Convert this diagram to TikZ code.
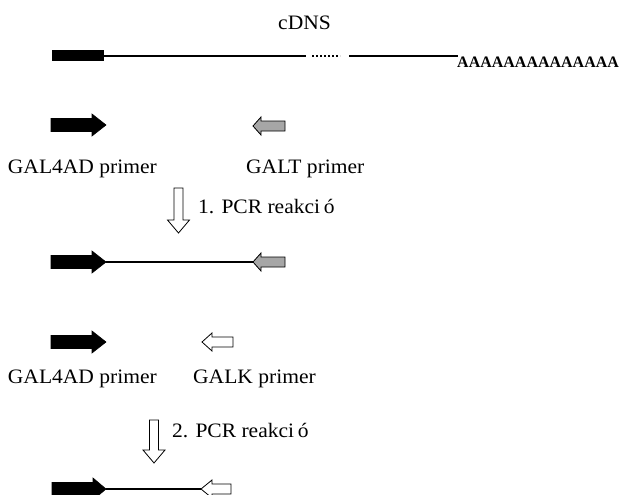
\documentclass[tikz,border=0pt]{standalone}
\usepackage{fontspec}
\setmainfont{Liberation Serif}
\newcommand{\wide}[1]{\scalebox{1.05}[1]{#1}}
\begin{document}
\begin{tikzpicture}[x=1pt,y=-1pt,
  lbl/.style={inner sep=0pt,font=\fontsize{20.5}{22}\selectfont},
  dna/.style={line width=2.2pt},
  blackprimer/.style={fill=black,draw=black,line width=0.6pt},
  greyprimer/.style={fill=gray!70,draw=black,line width=0.8pt},
  whiteprimer/.style={fill=white,draw=black,line width=0.8pt},
  stepdown/.style={fill=white,draw=black,line width=0.8pt}]
\useasboundingbox (0,0) rectangle (624,495);
\clip (0,0) rectangle (624,495);
% right-pointing primer: start x0, head start xh, tip x1, centre c
\newcommand{\rprimer}[5]{%
  \path[#5] (#1,#4-6.5) -- (#2,#4-6.5) -- (#2,#4-11) -- (#3,#4) -- (#2,#4+11) -- (#2,#4+6.5) -- (#1,#4+6.5) -- cycle;}
% left-pointing primer: tip x1, head end xh, body end x0, centre c
\newcommand{\lprimer}[5]{%
  \path[#5] (#1,#4) -- (#2,#4-9) -- (#2,#4-5) -- (#3,#4-5) -- (#3,#4+5) -- (#2,#4+5) -- (#2,#4+9) -- cycle;}
% downward hollow arrow
\newcommand{\downarrowshape}[4]{%
  \path[stepdown] (#1-4.5,#2) -- (#1+4.5,#2) -- (#1+4.5,#3) -- (#1+11,#3) -- (#1,#4) -- (#1-11,#3) -- (#1-4.5,#3) -- cycle;}

% ---- cDNS line ----
\node[lbl,anchor=base west] (cdns) at (278,30) {\wide{cDNS}};
\fill (52,50) rectangle (104,61);
\coordinate (l1a) at (104,56);
\coordinate (l1b) at (306,56);
\coordinate (d1a) at (312,56);
\coordinate (d1b) at (340,56);
\coordinate (l2a) at (349,56);
\coordinate (l2b) at (458,56);
\draw[dna] (l1a) -- (l1b);
\draw[line width=1.6pt,dash pattern=on 2pt off 2pt] (d1a) -- (d1b);
\draw[dna] (l2a) -- (l2b);
\node[inner sep=0pt,anchor=base west,font=\fontsize{16}{18}\selectfont\bfseries] (polya) at (457,68) {AAAAAAAAAAAAAA};

% ---- primers row 1 ----
\rprimer{51}{92}{106}{125}{blackprimer}
\lprimer{253}{261}{285}{126}{greyprimer}
\node[lbl,anchor=base east] (gal4a) at (157,173) {\wide{GAL4AD primer}};
\node[lbl,anchor=base west] (galt) at (246,173) {\wide{GALT primer}};

% ---- step 1 ----
\downarrowshape{178.5}{188}{220}{233}
\node[lbl,anchor=base west] (pcr1) at (198,213) {\wide{1. PCR reakci\,ó}};

% ---- product 1 ----
\rprimer{51}{92}{106}{262}{blackprimer}
\coordinate (p1a) at (106,262);
\coordinate (p1b) at (253,262);
\draw[dna] (p1a) -- (p1b);
\lprimer{253}{261}{285}{262}{greyprimer}

% ---- primers row 2 ----
\rprimer{51}{92}{106}{342}{blackprimer}
\lprimer{202}{212}{233}{342}{whiteprimer}
\node[lbl,anchor=base east] (gal4b) at (157,383) {\wide{GAL4AD primer}};
\node[lbl,anchor=base west] (galk) at (193,383) {\wide{GALK primer}};

% ---- step 2 ----
\downarrowshape{154}{420}{450}{463}
\node[lbl,anchor=base west] (pcr2) at (172,437) {\wide{2. PCR reakci\,ó}};

% ---- product 2 ----
\rprimer{52}{93}{106}{489}{blackprimer}
\coordinate (p2a) at (106,489);
\coordinate (p2b) at (201,489);
\draw[dna] (p2a) -- (p2b);
\lprimer{201}{212}{231}{489}{whiteprimer}
\end{tikzpicture}
\end{document}
